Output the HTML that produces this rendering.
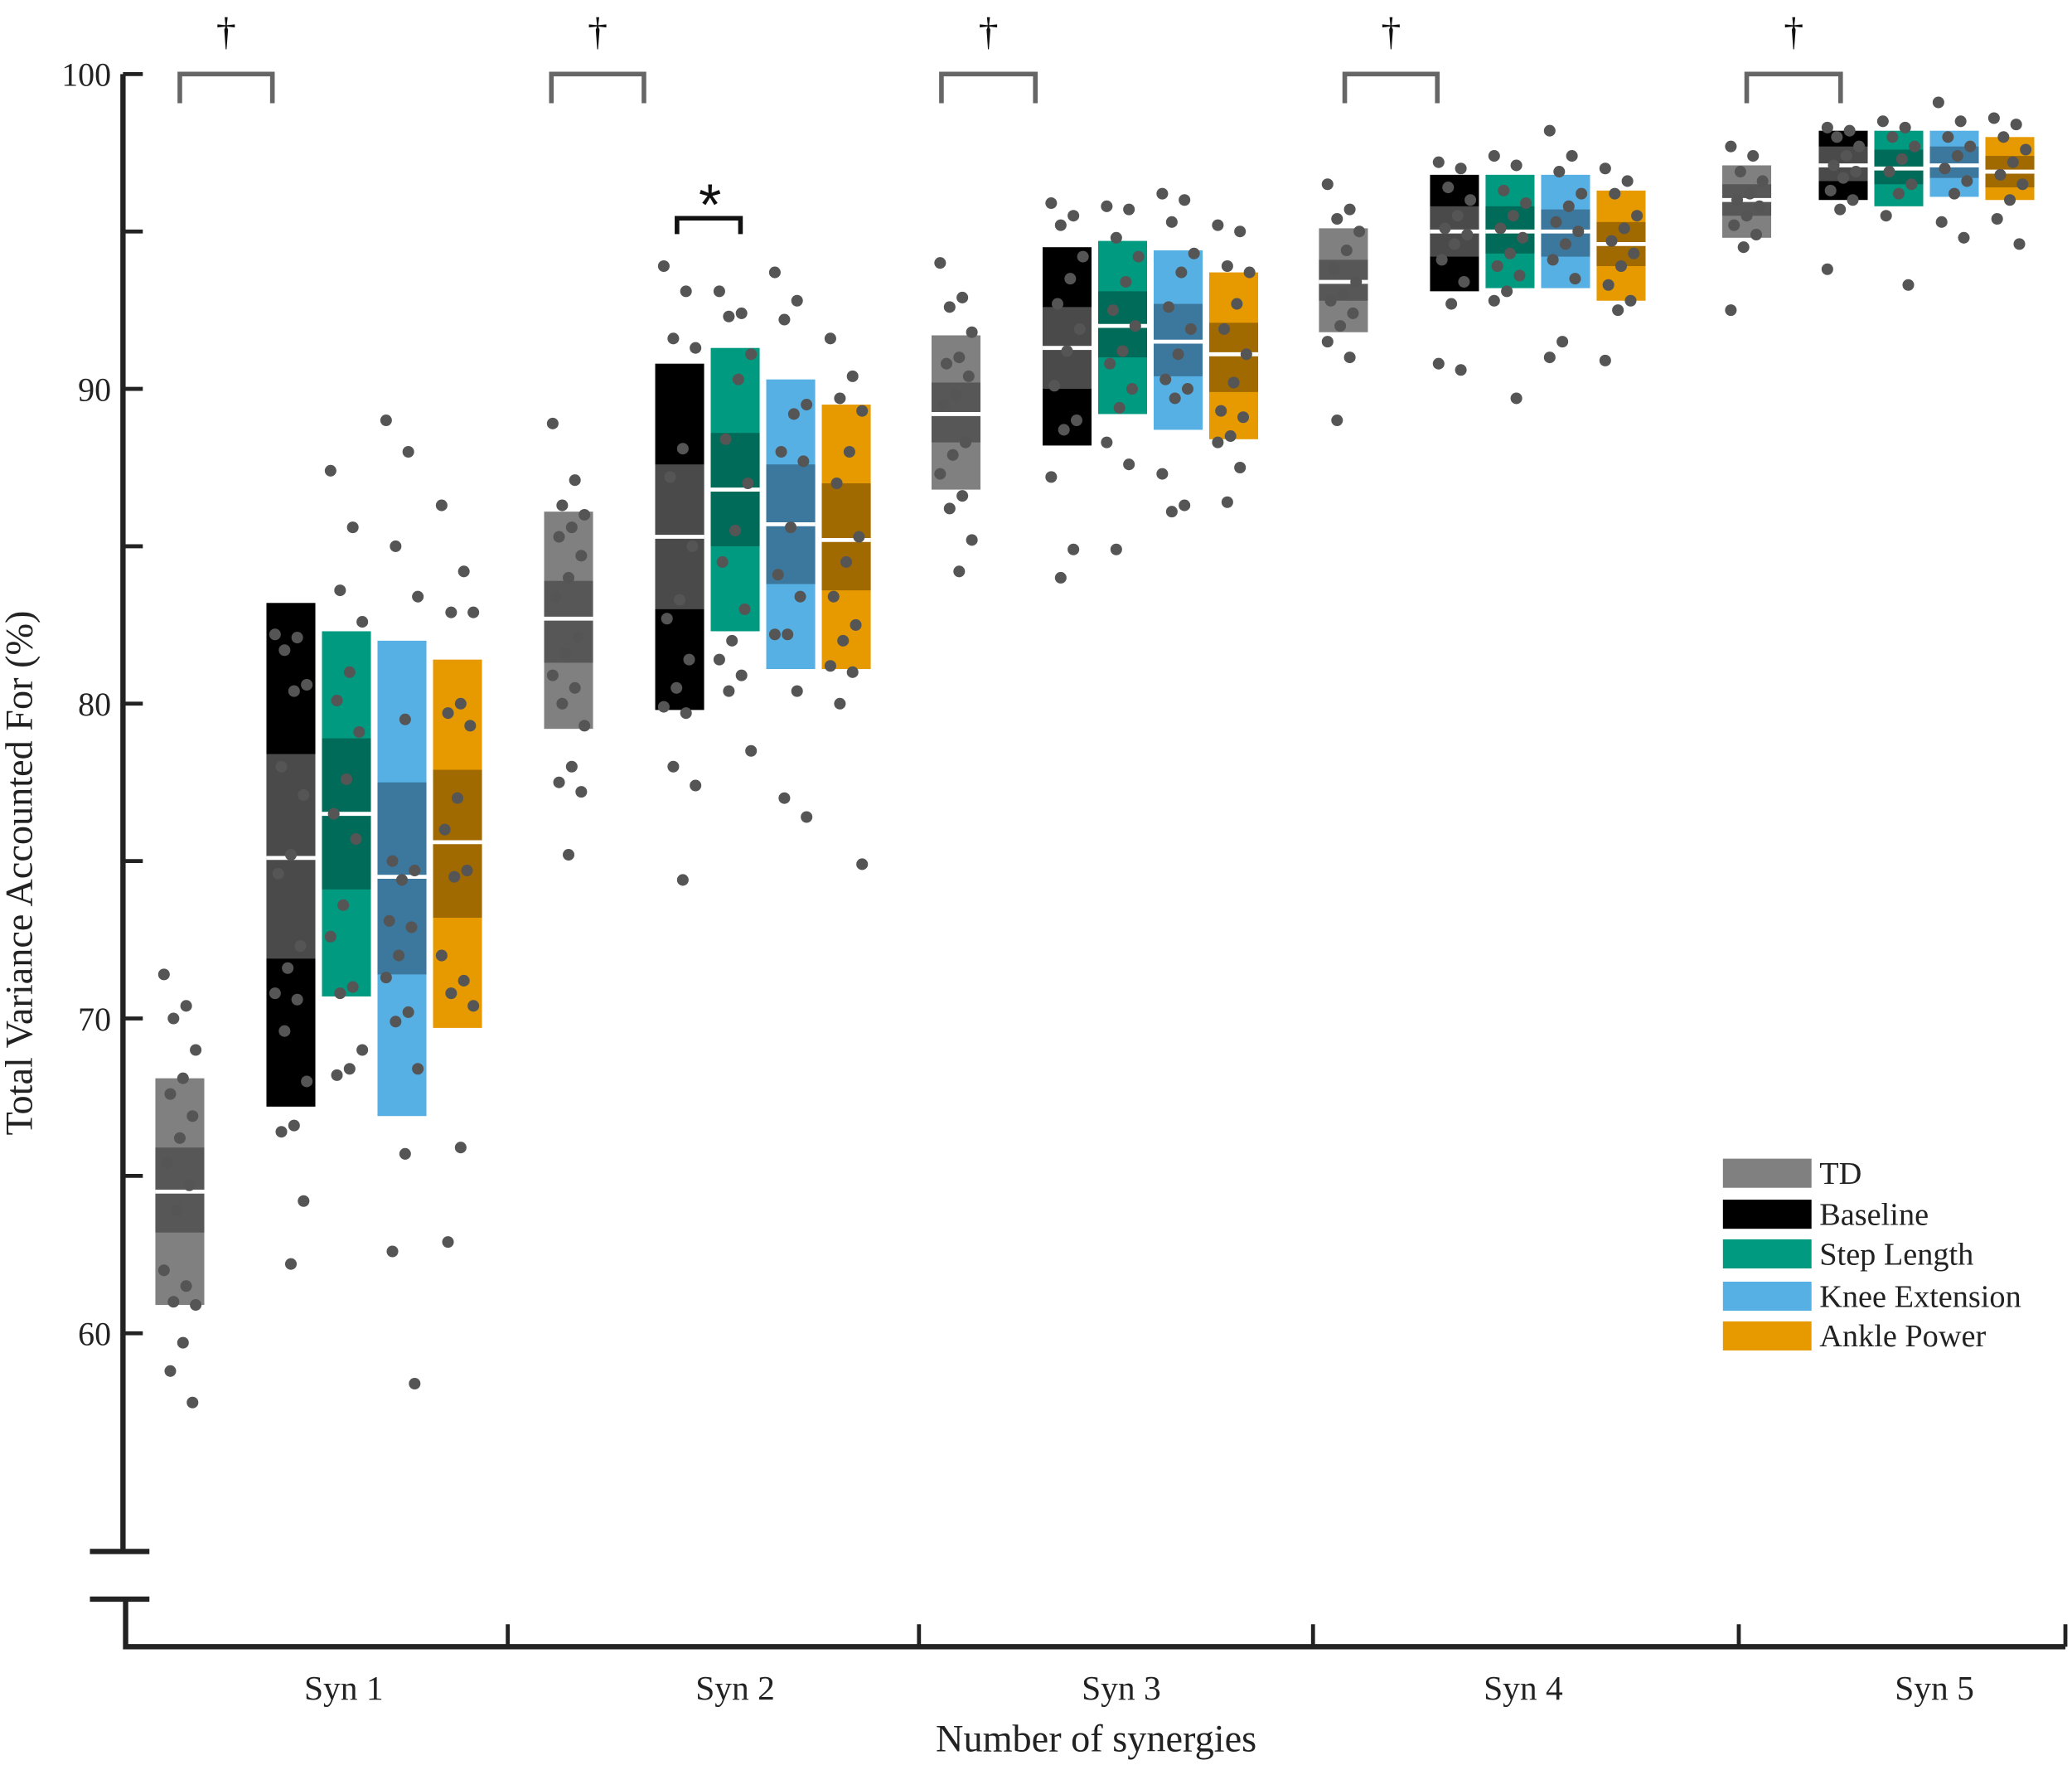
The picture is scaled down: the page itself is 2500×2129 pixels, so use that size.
<!DOCTYPE html>
<html><head><meta charset="utf-8"><style>html,body{margin:0;padding:0;background:#fff}svg{display:block}</style></head>
<body>
<svg id="chart" xmlns="http://www.w3.org/2000/svg" width="2500" height="2129" viewBox="0 0 1567 1334.4" preserveAspectRatio="none" font-family="'Liberation Serif', serif">
<g id="axes"></g>
<g id="marks"></g>
<g id="annot"></g>
<g id="legend"></g>
</svg>
<script>
const groups = ["Syn 1","Syn 2","Syn 3","Syn 4","Syn 5"];
const conditions = ["TD","Baseline","Step Length","Knee Extension","Ankle Power"];
const yTicks = [60,70,80,90,100];
// [low, bandLow, median, bandHigh, high] per group per condition
const boxStats = [
 [[60.9,63.2,64.5,65.9,68.1],[67.2,71.9,75.1,78.4,83.2],[70.7,74.1,76.5,78.9,82.3],[66.9,71.4,74.5,77.5,82.0],[69.7,73.2,75.6,77.9,81.4]],
 [[79.2,81.3,82.7,83.9,86.1],[79.8,83.0,85.3,87.6,90.8],[82.3,85.0,86.8,88.6,91.3],[81.1,83.8,85.7,87.6,90.3],[81.1,83.6,85.2,87.0,89.5]],
 [[86.8,88.3,89.2,90.2,91.7],[88.2,90.0,91.3,92.6,94.5],[89.2,91.0,92.0,93.1,94.7],[88.7,90.4,91.5,92.7,94.4],[88.4,89.9,91.1,92.1,93.7]],
 [[91.8,92.8,93.4,94.1,95.1],[93.1,94.2,95.0,95.8,96.8],[93.2,94.3,95.0,95.8,96.8],[93.2,94.2,95.0,95.7,96.8],[92.8,93.9,94.6,95.3,96.3]],
 [[94.8,95.5,96.0,96.5,97.1],[96.0,96.6,97.1,97.7,98.2],[95.8,96.5,97.0,97.6,98.2],[96.1,96.7,97.1,97.7,98.2],[96.0,96.4,96.9,97.4,98.0]]
];
const points = [
 [[71.4,70.4,70.0,69.0,68.1,67.6,66.9,66.2,65.4,64.7,63.9,62.0,61.5,61.0,60.9,59.7,58.8,57.8],
  [82.2,82.1,81.7,80.6,80.4,78.0,77.1,75.2,74.6,72.3,71.6,70.8,70.6,69.6,68.0,66.6,66.4,64.2,62.2],
  [87.4,85.6,83.6,82.6,81.0,80.1,79.1,77.6,76.5,75.7,73.6,72.6,71.0,70.8,69.0,68.4,68.2],
  [89.0,88.0,85.0,83.4,79.5,75.0,74.7,74.4,73.1,72.9,72.0,71.3,70.2,69.9,68.4,65.7,62.6,58.4],
  [86.3,84.2,82.9,82.9,80.0,79.7,79.3,77.0,76.0,74.7,74.5,72.0,71.2,70.8,70.4,65.9,62.9]],
 [[88.9,87.1,86.3,86.0,85.6,85.3,84.7,84.0,83.4,82.1,81.6,80.9,80.5,80.0,79.3,78.0,77.5,77.2,75.2],
  [93.9,93.1,91.6,91.3,88.1,87.2,85.0,83.3,82.7,81.4,80.5,79.9,79.7,78.0,77.4,74.4],
  [93.1,92.4,92.3,91.1,90.3,88.4,87.0,85.5,84.5,83.0,82.0,81.4,80.9,80.4,78.5],
  [93.7,92.8,92.2,89.5,89.2,88.0,87.7,85.6,84.1,83.4,82.2,82.2,80.4,77.0,76.4],
  [91.6,90.4,89.7,89.3,88.0,87.0,85.3,84.5,83.4,82.5,82.0,81.2,81.0,80.0,74.9]],
 [[94.0,92.9,92.6,91.8,91.0,90.8,90.4,89.8,89.5,88.3,87.9,87.3,86.6,86.2,85.2,84.2],
  [95.9,95.5,95.2,94.2,93.5,92.7,91.9,91.2,90.1,89.0,88.7,87.2,84.9,84.0],
  [95.8,95.7,94.8,94.2,93.4,92.5,92.0,91.2,90.8,90.0,89.4,88.3,87.6,84.9],
  [96.2,96.0,95.3,94.3,93.7,92.6,91.9,91.1,90.3,90.0,89.7,87.3,86.3,86.1],
  [95.2,95.0,93.9,93.7,92.7,91.9,91.1,90.2,89.3,89.1,88.5,88.3,87.5,86.4]],
 [[96.5,95.7,95.4,95.0,94.4,93.8,93.4,93.0,92.8,92.4,92.0,91.5,91.0,89.0],
  [97.2,97.0,96.4,96.0,95.5,95.1,94.9,94.6,94.1,93.4,92.7,90.8,90.6],
  [97.4,97.1,96.3,95.9,95.5,95.1,94.8,94.3,93.9,93.6,93.1,92.8,89.7],
  [98.2,97.4,96.9,96.2,95.8,95.3,95.0,94.6,94.1,93.5,91.5,91.0],
  [97.0,96.6,96.2,95.5,95.1,94.7,94.3,93.9,93.3,92.8,92.5,90.9]],
 [[97.7,97.4,96.9,96.6,96.2,96.0,95.8,95.5,95.2,94.9,94.5,92.5],
  [98.3,98.2,98.0,97.7,97.4,97.1,96.9,96.7,96.3,96.0,95.7,93.8],
  [98.5,98.3,98.0,97.7,97.3,96.9,96.5,96.2,95.5,93.3],
  [99.1,98.5,98.0,97.7,97.4,97.0,96.6,96.2,95.3,94.8],
  [98.6,98.4,98.0,97.6,97.2,96.8,96.5,96.0,95.4,94.6]]
];
const outerColors = ["#808080","#000000","#009a80","#56b0e4","#e69a00"];
const bandColors = ["#575757","#4a4a4a","#006b58","#3c789e","#a06a00"];
const groupStart = [136,430,723,1016,1321];
const condOffsets = [0,84,126,168,210];
const groupOffsets5 = [0,73,115,157,199];

const NS="http://www.w3.org/2000/svg";
function y(v){return 56+(100-v)*23.8;}
function xc(g,c){return groupStart[g]+(g===4?groupOffsets5[c]:condOffsets[c]);}
function mk(parent,tag,attrs,text){const e=document.createElementNS(NS,tag);for(const k in attrs)e.setAttribute(k,attrs[k]);if(text!==undefined)e.textContent=text;parent.appendChild(e);return e;}

const axes=document.getElementById('axes'), marks=document.getElementById('marks'), annot=document.getElementById('annot'), legend=document.getElementById('legend');
let e;
e=mk(axes,'path',{d:'M93 56 V1173 M68 1173 H113 M68 1209 H113 M95 1209 V1245 H1562',stroke:'#222','stroke-width':4,fill:'none'});


for(const t of [60,65,70,75,80,85,90,95,100]){
  e=mk(axes,'line',{x1:93,x2:108,y1:y(t),y2:y(t),stroke:'#222','stroke-width':3});
  
  
}
for(const t of yTicks){
  e=mk(axes,'text',{x:84,y:y(t)+9,'text-anchor':'end','font-size':25,fill:'#222'},String(t));
  
  
}
for(const xd of [384,695,993,1315,1562]){
  e=mk(axes,'line',{x1:xd,x2:xd,y1:1228,y2:1245,stroke:'#222','stroke-width':3});
  
  
}
const labelX=[260,556,848,1152,1463];
groups.forEach((g,i)=>{
  e=mk(axes,'text',{x:labelX[i],y:1285,'text-anchor':'middle','font-size':26,fill:'#222'},g);
  
  
});
e=mk(axes,'text',{x:829,y:1324,'text-anchor':'middle','font-size':29,fill:'#222'},'Number of synergies');


e=mk(axes,'text',{x:0,y:0,'text-anchor':'middle','font-size':29,fill:'#222',transform:'translate(24,660) rotate(-90)'},'Total Variance Accounted For (%)');



const W=37;
for(let g=0;g<5;g++){for(let c=0;c<5;c++){
  const s=boxStats[g][c], x=xc(g,c);
  e=mk(marks,'rect',{x:x-W/2,y:y(s[4]),width:W,height:y(s[0])-y(s[4]),fill:outerColors[c]});
  
  
  e=mk(marks,'rect',{x:x-W/2,y:y(s[3]),width:W,height:y(s[1])-y(s[3]),fill:bandColors[c]});
  
  
  e=mk(marks,'line',{x1:x-W/2,x2:x+W/2,y1:y(s[2]),y2:y(s[2]),stroke:'#fff','stroke-width':3});
  
  
  points[g][c].forEach((v,i)=>{
    const j=((i*7)%11-5)*2.4;
    e=mk(marks,'circle',{cx:x+j,cy:y(v),r:4.4,fill:'#555'});
    
    
  });
}}
const brackets=[[136,206],[417,487],[712,783],[1017,1087],[1321,1392]];
brackets.forEach(b=>{
  e=mk(annot,'path',{d:`M${b[0]} 78 V56 H${b[1]} V78`,stroke:'#666','stroke-width':3.5,fill:'none'});
  
  
  e=mk(annot,'text',{x:(b[0]+b[1])/2,y:34,'text-anchor':'middle','font-size':30,fill:'#111'},'†');
  
  
});
e=mk(annot,'path',{d:'M512 177 V165 H560 V177',stroke:'#111','stroke-width':3.5,fill:'none'});


e=mk(annot,'text',{x:537,y:170,'text-anchor':'middle','font-size':44,'font-family':"'Liberation Sans', sans-serif",fill:'#111'},'*');



const legY=[876,907,937,969,999];
conditions.forEach((c,i)=>{
  e=mk(legend,'rect',{x:1303,y:legY[i],width:67,height:22,fill:outerColors[i]});
  
  
  e=mk(legend,'text',{x:1376,y:legY[i]+19,'font-size':24,fill:'#222'},c);
  
  
});
</script>
</body></html>
